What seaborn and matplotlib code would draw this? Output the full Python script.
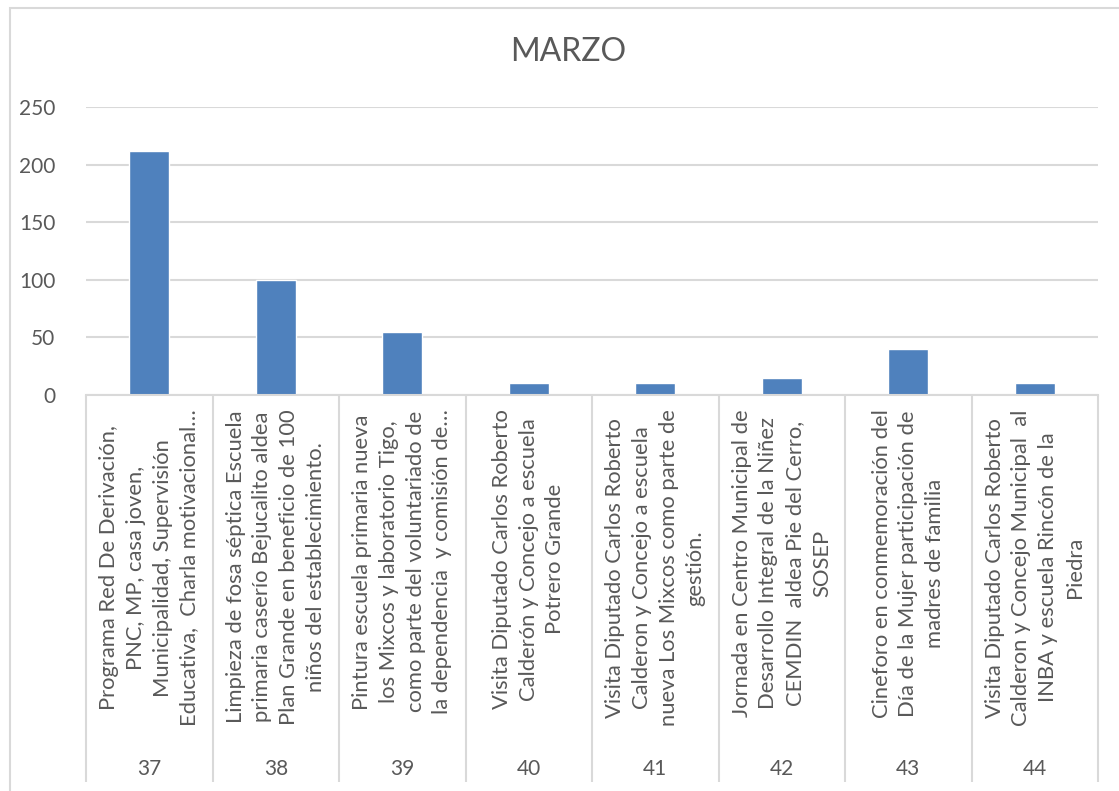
import numpy as np
import pandas as pd
import seaborn as sns
import matplotlib.pyplot as plt
from matplotlib.patches import Rectangle

# data
semanas = ["37", "38", "39", "40", "41", "42", "43", "44"]
valores = [212, 100, 55, 10, 10, 15, 40, 10]
actividades = [
    "Programa Red De Derivación,\nPNC, MP, casa joven,\nMunicipalidad, Supervisión\nEducativa,  Charla motivacional…",
    "Limpieza de fosa séptica Escuela\nprimaria caserío Bejucalito aldea\nPlan Grande en beneficio de 100\nniños del establecimiento.",
    "Pintura escuela primaria nueva\nlos Mixcos y laboratorio Tigo,\ncomo parte del voluntariado de\nla dependencia  y comisión de…",
    "Visita Diputado Carlos Roberto\nCalderón y Concejo a escuela\nPotrero Grande",
    "Visita Diputado Carlos Roberto\nCalderon y Concejo a escuela\nnueva Los Mixcos como parte de\ngestión.",
    "Jornada en Centro Municipal de\nDesarrollo Integral de la Niñez\nCEMDIN  aldea Pie del Cerro,\nSOSEP",
    "Cineforo en conmemoración del\nDía de la Mujer participación de\nmadres de familia",
    "Visita Diputado Carlos Roberto\nCalderon y Concejo Municipal  al\nINBA y escuela Rincón de la\nPiedra",
]
yticks = [0, 50, 100, 150, 200, 250]

GRID = "#d9d9d9"
TEXT = "#595959"
BAR = "#4f81bd"

sns.set_style("white")
plt.rcParams["font.family"] = ["Lato", "DejaVu Sans"]

df = pd.DataFrame({"semana": semanas, "valor": valores})

fig = plt.figure(figsize=(11.19, 7.91), dpi=100)
ax = fig.add_axes([86 / 1119, 1 - 395 / 791, (1098 - 86) / 1119, 288 / 791])

sns.barplot(data=df, x="semana", y="valor", order=semanas, color=BAR,
            saturation=1, width=0.32, ax=ax)

ax.set_xlim(-0.5, len(semanas) - 0.5)
ax.set_ylim(0, 250)
ax.set_yticks(yticks)
ax.yaxis.grid(True, color=GRID, linewidth=1.5)
ax.set_axisbelow(True)
ax.tick_params(axis="y", length=0, labelsize=15, labelcolor=TEXT, pad=22)
ax.set_xticks([])
ax.set_xlabel("")
ax.set_ylabel("")
for side in ["left", "right", "top"]:
    ax.spines[side].set_visible(False)
ax.spines["bottom"].set_color(GRID)
ax.spines["bottom"].set_linewidth(1.5)

# multi-level category axis: rotated activity text + week number
trans = ax.get_xaxis_transform()
for i, (sem, txt) in enumerate(zip(semanas, actividades)):
    ax.text(i, -0.05, txt, transform=trans, rotation=90, ha="center", va="top",
            multialignment="center", fontsize=15.8, color=TEXT, linespacing=1.42,
            clip_on=False)
    ax.text(i, -1.30, sem, transform=trans, ha="center", va="center",
            fontsize=15, color=TEXT, clip_on=False)

bounds = np.arange(len(semanas) + 1) - 0.5
ax.vlines(bounds, -1.345, 0, transform=trans, colors=GRID, linewidth=1.5,
          clip_on=False)

fig.text(568 / 1119, 1 - 52 / 791, "MARZO", ha="center", va="center",
         fontsize=23, color=TEXT)

fig.patches.append(Rectangle((10 / 1119, -0.05), 1.1, 0.99 + 0.05, transform=fig.transFigure,
                             fill=False, edgecolor=GRID, linewidth=1.5))

fig.savefig("out.png", dpi=100)
